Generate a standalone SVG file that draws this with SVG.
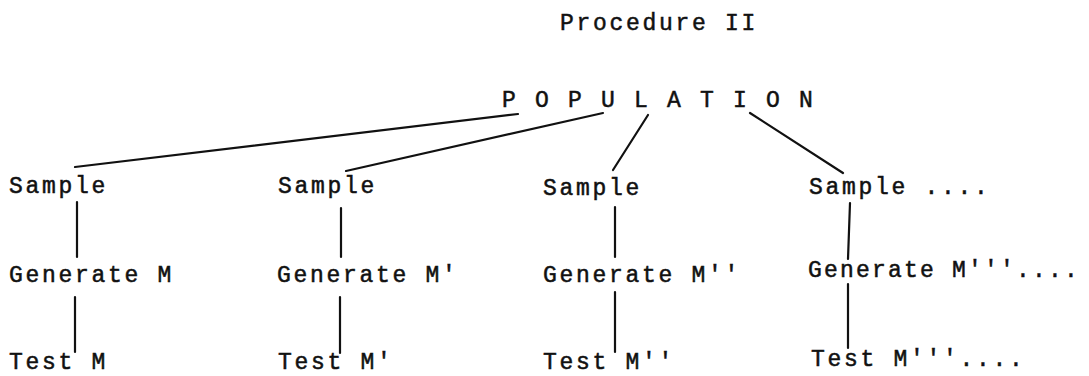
<svg xmlns="http://www.w3.org/2000/svg" width="1089" height="376" viewBox="0 0 1089 376">
<style>
text{font-family:"Liberation Mono","Courier New",monospace;font-size:23px;letter-spacing:2.7px;fill:#111;stroke:#111;stroke-width:0.5;}
.c line{stroke:#111;stroke-width:2.2;stroke-linecap:round;}
</style>
<rect width="1089" height="376" fill="#fff"/>
<g id="title"><text x="560" y="30">Procedure II</text></g>
<g id="population"><text x="502" y="107">P O P U L A T I O N</text></g>
<g id="sample1"><text x="9" y="193">Sample</text></g>
<g id="sample2"><text x="278" y="193">Sample</text></g>
<g id="sample3"><text x="543" y="195">Sample</text></g>
<g id="sample4"><text x="809" y="194">Sample ....</text></g>
<g id="generate1"><text x="9" y="282">Generate M</text></g>
<g id="generate2"><text x="277" y="282">Generate M'</text></g>
<g id="generate3"><text x="543" y="282">Generate M''</text></g>
<g id="generate4"><text x="808" y="277" style="letter-spacing:2.2px">Generate M'''....</text></g>
<g id="test1"><text x="9" y="369">Test M</text></g>
<g id="test2"><text x="278" y="369">Test M'</text></g>
<g id="test3"><text x="543" y="369">Test M''</text></g>
<g id="test4"><text x="811" y="366">Test M'''....</text></g>
<g class="c" id="connectors">
<line x1="75" y1="167" x2="518" y2="114"/>
<line x1="346" y1="171" x2="603" y2="113"/>
<line x1="648" y1="115" x2="613" y2="170"/>
<line x1="750" y1="113" x2="843" y2="173"/>
<line x1="77" y1="202" x2="77" y2="257"/>
<line x1="75" y1="297" x2="75" y2="352"/>
<line x1="341" y1="208" x2="341" y2="257"/>
<line x1="340" y1="297" x2="340" y2="353"/>
<line x1="615" y1="207" x2="615" y2="257"/>
<line x1="615" y1="292" x2="615" y2="352"/>
<line x1="850" y1="203" x2="848" y2="259"/>
<line x1="848" y1="284" x2="848" y2="348"/>
</g>
</svg>
